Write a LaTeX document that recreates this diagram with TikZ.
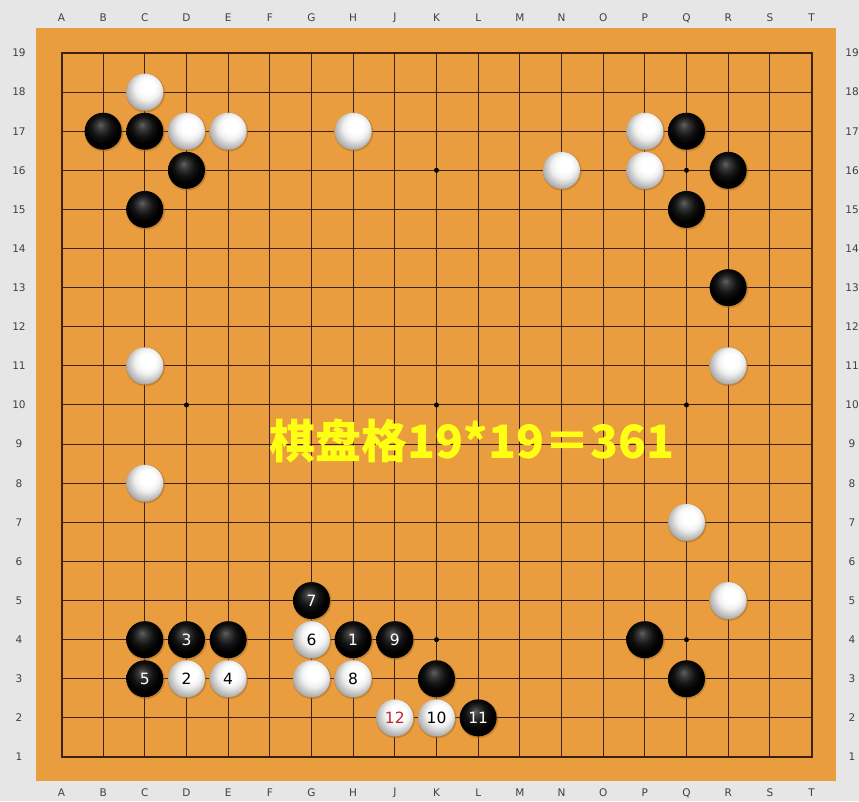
\documentclass[tikz,border=0pt]{standalone}
\usepackage{fontspec}
\setsansfont{DejaVu Sans}
\newfontfamily\cjk{Noto Sans CJK SC}
\definecolor{bgray}{HTML}{E6E6E6}
\definecolor{boardc}{HTML}{E99D3E}
\definecolor{gridc}{HTML}{3A2214}
\definecolor{labc}{HTML}{404040}
\definecolor{numred}{HTML}{C0262A}
\pgfdeclareradialshading{wball}{\pgfpoint{5bp}{9bp}}{color(0bp)=(white); color(10bp)=(white); color(17bp)=(white!94!black); color(23bp)=(white!80!black); color(30bp)=(white!63!black); color(50bp)=(white!50!black)}
\pgfdeclareradialshading{bball}{\pgfpoint{-4bp}{9bp}}{color(0bp)=(black!62); color(6bp)=(black!78); color(14bp)=(black!93); color(22bp)=(black); color(50bp)=(black)}
\tikzset{
  gridline/.style={draw=gridc, line width=1pt},
  coordlabel/.style={font=\sffamily\fontsize{10.5}{10.5}\selectfont, text=labc, inner sep=0pt},
  starpt/.style={circle, fill=black, minimum size=5pt, inner sep=0pt},
  stonebase/.style={circle, minimum size=37pt, inner sep=0pt, font=\sffamily\fontsize{15.5}{15.5}\selectfont},
  bstone/.style={stonebase, shading=bball, text=white},
  wstone/.style={stonebase, shading=wball, text=black},
  stshadow/.style={fill=boardc!72!black, opacity=0.55},
}
\newcommand\px[1]{61.5+41.667*#1}
\newcommand\py[1]{44+39.111*(#1-1)}
\newcommand\bst[4][]{%
  \fill[stshadow] ({\px{#2}+0.7},{\py{#3}-0.9}) circle (19.4pt);
  \node[bstone,#1] (b-#2-#3) at ({\px{#2}},{\py{#3}}) {#4};}
\newcommand\wst[4][]{%
  \fill[stshadow] ({\px{#2}+0.7},{\py{#3}-0.9}) circle (19.4pt);
  \node[wstone,#1] (w-#2-#3) at ({\px{#2}},{\py{#3}}) {#4};}
\begin{document}
\begin{tikzpicture}[x=1pt,y=1pt]
\fill[bgray] (0,0) rectangle (859,801);
\useasboundingbox (0,0) rectangle (859,801);
\fill[boardc] (36,20) rectangle (836,773);
% grid
\foreach \i in {0,...,18} {
  \draw[gridline] ({\px{\i}},{\py{1}}) -- ({\px{\i}},{\py{19}});
  \draw[gridline] ({\px{0}},{\py{\i+1}}) -- ({\px{18}},{\py{\i+1}});
}
\draw[draw=gridc, line width=2pt] ({\px{0}},{\py{1}}) rectangle ({\px{18}},{\py{19}});
% labels
\foreach \L [count=\k from 0] in {A,B,C,D,E,F,G,H,J,K,L,M,N,O,P,Q,R,S,T} {
  \node[coordlabel] (lt-\k) at ({\px{\k}},783) {\L};
  \node[coordlabel] (lb-\k) at ({\px{\k}},8) {\L};
}
\foreach \r in {1,...,19} {
  \node[coordlabel] (ll-\r) at (19,{\py{\r}}) {\r};
  \node[coordlabel] (lr-\r) at (852,{\py{\r}}) {\r};
}
% star points
\foreach \a in {3,9,15} \foreach \b in {4,10,16}
  \node[starpt] (st-\a-\b) at ({\px{\a}},{\py{\b}}) {};
% stones
\wst{2}{18}{}
\bst{1}{17}{} \bst{2}{17}{} \wst{3}{17}{} \wst{4}{17}{} \wst{7}{17}{} \wst{14}{17}{} \bst{15}{17}{}
\bst{3}{16}{} \wst{12}{16}{} \wst{14}{16}{} \bst{16}{16}{}
\bst{2}{15}{} \bst{15}{15}{}
\bst{16}{13}{}
\wst{2}{11}{} \wst{16}{11}{}
\wst{2}{8}{}
\wst{15}{7}{}
\bst{6}{5}{7} \wst{16}{5}{}
\bst{2}{4}{} \bst{3}{4}{3} \bst{4}{4}{} \wst{6}{4}{6} \bst{7}{4}{1} \bst{8}{4}{9} \bst{14}{4}{}
\bst{2}{3}{5} \wst{3}{3}{2} \wst{4}{3}{4} \wst{6}{3}{} \wst{7}{3}{8} \bst{9}{3}{} \bst{15}{3}{}
\wst[text=numred]{8}{2}{12} \wst{9}{2}{10} \bst{10}{2}{11}
% title
\node[font=\cjk\bfseries\fontsize{46}{46}\selectfont, text={rgb,255:red,255;green,255;blue,20}, inner sep=0pt] (title) at (472,360) {棋盘格19*19＝361};
\end{tikzpicture}
\end{document}
